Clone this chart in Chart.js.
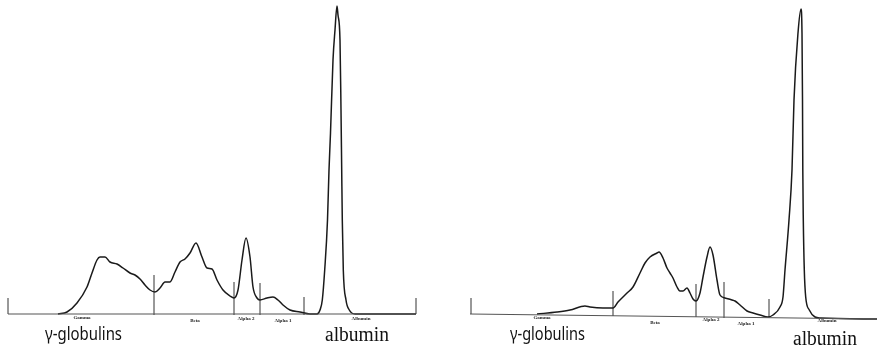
<!DOCTYPE html>
<html lang="en">

<head>
    <meta charset="UTF-8">
    <title>Serum protein electrophoresis</title>
    <script src="https://cdn.jsdelivr.net/npm/chart.js"></script>
    <style>
        html, body { margin: 0; padding: 0; background: #fff; }
        #wrap { width: 877px; height: 349px; }
    </style>
</head>

<body>
    <div id="wrap"><canvas id="spe" width="877" height="349"></canvas></div>
    <script>
        // fractions
        const fractions = ['Gamma', 'Beta', 'Alpha 2', 'Alpha 1', 'Albumin'];

        // left densitogram (migration, absorbance)
        const leftX = [58, 67, 77, 87, 92, 97, 100, 105, 110, 117, 123, 130, 135, 140, 145, 150, 155, 160, 165, 170,
            175, 180, 185, 190, 196, 202, 207, 212, 217, 223, 230, 234, 238, 242, 246, 250, 253, 257, 260, 267,
            273, 278, 283, 290, 300, 310, 317, 320, 322.3, 324.7, 327.5, 329, 330.5, 333, 335, 337, 338, 340,
            341, 341.7, 342.3, 343.3, 346, 349.3, 355, 416];
        const leftY = [35, 37, 46, 62, 76, 89, 92, 92, 87, 85, 81, 76, 74, 70, 64, 59, 57, 61, 67, 67,
            77, 87, 90, 96, 106, 92, 81, 80, 69, 59, 53, 51, 59, 89, 111, 92, 62, 51, 49, 51,
            52, 49, 44, 39, 37, 35, 35, 39, 49, 79, 129, 179, 216, 289, 319, 343, 334, 309,
            239, 179, 129, 79, 49, 39, 35, 35];
        const leftBaseX = [8, 416];
        const leftBaseY = [35, 35];
        const leftCutX = [8, 154, 234, 260, 304, 416];
        const leftCutTop = [51, 74, 67, 66, 52, 51];
        const leftCutBottom = [35, 34, 34, 34, 34, 35];

        // right densitogram
        const rightX = [537, 557, 570, 585, 590, 603, 613, 618, 627, 633, 640, 645, 650, 657, 659, 663, 667, 670,
            673, 677, 680, 683, 687, 690, 693, 696, 700, 703, 707, 710, 713, 717, 720, 725, 732, 735, 740, 747,
            753, 760, 768, 773, 780, 783, 785, 789, 792, 794, 798, 801, 802, 802.5, 802.8, 803.3, 804.3, 805.7,
            809.3, 815, 820, 877];
        const rightY = [35, 37, 39, 43, 42, 41, 41, 47, 56, 62, 76, 86, 92, 96, 97, 91, 81, 76,
            71, 62, 58, 58, 61, 56, 50, 48, 56, 72, 92, 102, 94, 69, 54, 51, 49, 48, 44, 38,
            36, 34, 32, 34, 42, 52, 79, 129, 179, 249, 316, 340, 316, 249, 179, 129, 79, 52,
            39, 32, 31, 30];
        const rightBaseX = [470, 877];
        const rightBaseY = [35, 30];
        const rightCutX = [471, 613, 696, 724, 769];
        const rightCutTop = [51, 58, 65, 67, 50];
        const rightCutBottom = [35, 33, 32, 31, 31];

        function pts(xs, ys) {
            return xs.map((x, i) => ({ x: x, y: ys[i] }));
        }

        const traceStyle = {
            showLine: true, pointRadius: 0, borderColor: '#1a1a1a', borderWidth: 1.5,
            cubicInterpolationMode: 'monotone', fill: false
        };
        const baseStyle = { showLine: true, pointRadius: 0, borderColor: '#555', borderWidth: 1.2, fill: false };
        const cutStyle = { showLine: true, pointRadius: 0, borderColor: '#333', borderWidth: 1, fill: false };

        const datasets = [
            Object.assign({ data: pts(leftBaseX, leftBaseY) }, baseStyle),
            Object.assign({ data: pts(rightBaseX, rightBaseY) }, baseStyle),
            Object.assign({ data: pts(leftX, leftY) }, traceStyle),
            Object.assign({ data: pts(rightX, rightY) }, traceStyle)
        ];
        leftCutX.forEach((x, i) => {
            datasets.push(Object.assign({ data: [{ x: x, y: leftCutBottom[i] }, { x: x, y: leftCutTop[i] }] }, cutStyle));
        });
        rightCutX.forEach((x, i) => {
            datasets.push(Object.assign({ data: [{ x: x, y: rightCutBottom[i] }, { x: x, y: rightCutTop[i] }] }, cutStyle));
        });

        // text placement (layout only)
        const smallLabels = {
            left: { x: [82, 195, 246, 283, 361], y: [31, 28, 30, 28, 30] },
            right: { x: [542, 655, 711, 746, 827], y: [31, 26, 29, 25, 28] }
        };
        const bigLabels = [
            { text: 'γ-globulins', x: 45, y: 9, w: 77, font: '18px "Noto Sans"' },
            { text: 'albumin', x: 325, y: 8, w: 64, font: '20px "Liberation Serif"' },
            { text: 'γ-globulins', x: 510, y: 9, w: 75, font: '18px "Noto Sans"' },
            { text: 'albumin', x: 793, y: 4, w: 64, font: '20px "Liberation Serif"' }
        ];

        const textPlugin = {
            id: 'speText',
            afterDraw(chart) {
                const { ctx, scales: { x, y } } = chart;
                ctx.save();
                ctx.fillStyle = '#222';
                ctx.textAlign = 'center';
                ctx.textBaseline = 'middle';
                ctx.font = 'bold 5px "Liberation Serif"';
                ['left', 'right'].forEach(side => {
                    const s = smallLabels[side];
                    fractions.forEach((name, i) => {
                        ctx.fillText(name, x.getPixelForValue(s.x[i]), y.getPixelForValue(s.y[i]));
                    });
                });
                ctx.fillStyle = '#111';
                ctx.textAlign = 'left';
                ctx.textBaseline = 'alphabetic';
                bigLabels.forEach(l => {
                    ctx.font = l.font;
                    const m = ctx.measureText(l.text).width;
                    const px = x.getPixelForValue(l.x), py = y.getPixelForValue(l.y);
                    ctx.save();
                    ctx.translate(px, py);
                    ctx.scale(l.w / m, 1);
                    ctx.fillText(l.text, 0, 0);
                    ctx.restore();
                });
                ctx.restore();
            }
        };

        new Chart(document.getElementById('spe'), {
            type: 'scatter',
            data: { datasets: datasets },
            options: {
                responsive: false,
                animation: false,
                layout: { padding: 0 },
                plugins: { legend: { display: false }, tooltip: { enabled: false } },
                scales: {
                    x: { type: 'linear', min: 0, max: 877, display: false },
                    y: { type: 'linear', min: 0, max: 349, display: false }
                }
            },
            plugins: [textPlugin]
        });
    </script>
</body>

</html>
